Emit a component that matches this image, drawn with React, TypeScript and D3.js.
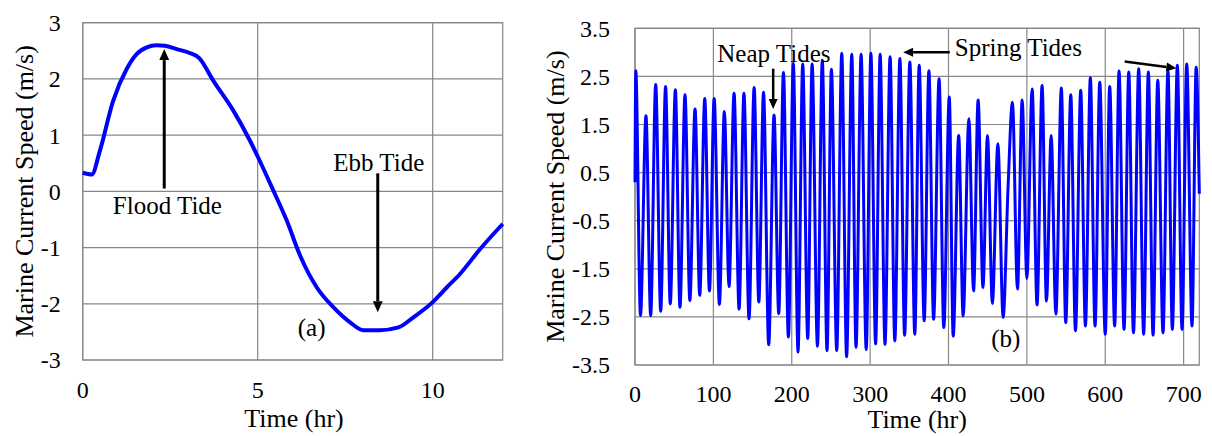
import React from 'react';
import * as d3 from 'd3';

// (a) one tidal cycle
const cycleHours = [0, 0.26, 0.49, 0.87, 1.26, 1.54, 1.83, 2.11, 2.35, 2.69, 3.02, 3.33, 3.73, 4.3, 4.78, 5.0, 5.45, 5.83, 6.21, 6.69, 7.16, 7.64, 8.02, 8.49, 9.02, 9.45, 10.0, 10.4, 10.78, 11.35, 12.0];
const cycleSpeed = [0.33, 0.3, 0.72, 1.61, 2.18, 2.44, 2.56, 2.6, 2.59, 2.53, 2.47, 2.37, 1.97, 1.44, 0.9, 0.62, 0.01, -0.52, -1.14, -1.71, -2.06, -2.33, -2.47, -2.47, -2.42, -2.24, -1.97, -1.71, -1.47, -1.03, -0.58];
const cycleXTicks = [0, 5, 10];
const cycleYTicks = [3, 2, 1, 0, -1, -2, -3];

// (b) one month, peaks and troughs
const monthHours = [
  0, 1, 7, 14, 20, 26.4, 32.8, 39, 45, 51.5,
  57.4, 63.8, 70, 76.6, 82.6, 89, 95, 101, 107.7, 114,
  120, 126.4, 132.8, 139, 145.5, 152, 158, 164, 170.6, 177.4,
  183.4, 189.4, 195.7, 202, 208, 214, 220.4, 226, 232.8, 239,
  245, 250.6, 257.4, 263.8, 270, 276.6, 282, 288.5, 295, 301,
  307, 312.8, 319, 325.5, 331.5, 338, 344, 350.7, 357, 362.6,
  369, 375, 381, 388, 394, 401, 406, 413, 418.7, 426,
  432, 437.8, 444, 449.7, 456, 463, 469.7, 476, 481.6, 488,
  494, 500, 506.7, 513, 519.4, 525, 531, 537, 544, 549.6,
  556, 562, 568.7, 574.7, 581, 587, 593, 600, 605.7, 612,
  617.6, 624, 630, 636, 642.7, 649, 655, 661, 667, 673.7,
  680, 685.6, 692, 698, 704, 710.7, 716, 720,
];
const monthSpeed = [
  0.3, 2.62, -2.47, 1.68, -2.47, 2.33, -2.38, 2.29, -2.23, 2.22,
  -2.3, 2.12, -2.16, 1.82, -2.05, 2.04, -1.96, 2.04, -2.24, 1.77,
  -1.87, 2.15, -2.34, 2.15, -2.54, 2.27, -2.19, 2.17, -3.08, 1.7,
  -2.43, 2.58, -2.92, 2.77, -3.23, 2.76, -2.95, 2.76, -3.11, 2.83,
  -3.2, 2.65, -3.2, 2.98, -3.33, 2.96, -3.13, 2.96, -3.18, 2.98,
  -3.06, 2.96, -3.07, 2.91, -3.0, 2.87, -2.88, 2.8, -2.86, 2.73,
  -2.58, 2.62, -2.55, 2.45, -2.72, 2.07, -2.9, 1.27, -2.48, 1.62,
  -1.96, 2.01, -1.89, 1.27, -2.22, 1.1, -2.51, 0.2, 1.96, -1.92,
  2.01, -1.7, 2.24, -2.25, 2.31, -2.17, 1.27, -2.44, 2.26, -2.62,
  2.12, -2.79, 2.21, -2.69, 2.47, -2.69, 2.38, -2.86, 2.29, -2.69,
  2.61, -2.76, 2.59, -2.83, 2.66, -2.86, 2.59, -2.88, 2.42, -2.83,
  2.62, -2.76, 2.73, -2.76, 2.76, -2.69, 2.69, 0.06,
];
const monthXTicks = [0, 100, 200, 300, 400, 500, 600, 700];
const monthYTicks = [3.5, 2.5, 1.5, 0.5, -0.5, -1.5, -2.5, -3.5];

const FONT = '"Liberation Serif", "Times New Roman", serif';
const GRID = '#878787';

const Arrow = ({ x1, y1, x2, y2, w = 3, head = 11 }: { x1: number; y1: number; x2: number; y2: number; w?: number; head?: number }) => {
  const a = Math.atan2(y2 - y1, x2 - x1);
  const bx = x2 - head * Math.cos(a);
  const by = y2 - head * Math.sin(a);
  const hw = head * 0.45;
  const pts = [
    [x2, y2],
    [bx + hw * Math.sin(a), by - hw * Math.cos(a)],
    [bx - hw * Math.sin(a), by + hw * Math.cos(a)],
  ];
  return (
    <g>
      <line x1={x1} y1={y1} x2={bx} y2={by} stroke="#000" strokeWidth={w} />
      <polygon points={pts.map(p => p.join(',')).join(' ')} fill="#000" />
    </g>
  );
};

export default function App() {
  // left panel
  const xa = d3.scaleLinear().domain([0, 12]).range([82.7, 502.7]);
  const ya = d3.scaleLinear().domain([-3, 3]).range([360, 22.7]);
  const lineA = d3.line<number>()
    .x((_, i) => xa(cycleHours[i]))
    .y(d => ya(d))
    .curve(d3.curveMonotoneX);

  // right panel
  const xb = d3.scaleLinear().domain([0, 720]).range([635, 1199.3]);
  const yb = d3.scaleLinear().domain([-3.5, 3.5]).range([365, 28.3]);
  const lineB = d3.line<number>()
    .x((_, i) => xb(monthHours[i]))
    .y(d => yb(d))
    .curve(d3.curveMonotoneX);

  return (
    <svg width={1212} height={436} style={{ position: 'absolute', left: 0, top: 0, background: '#fff' }} fontFamily={FONT}>
      {/* ---- (a) ---- */}
      <g>
        {cycleYTicks.map(t => (
          <g key={t}>
            <line x1={xa(0)} x2={xa(12)} y1={ya(t)} y2={ya(t)} stroke={GRID} strokeWidth={1.2} />
            <text x={xa(0) - 22} y={ya(t)} dy="0.35em" textAnchor="end" fontSize={24}>{t}</text>
          </g>
        ))}
        {cycleXTicks.map(t => (
          <g key={t}>
            <line x1={xa(t)} x2={xa(t)} y1={ya(3)} y2={ya(-3)} stroke={GRID} strokeWidth={1.2} />
            <text x={xa(t)} y={398} textAnchor="middle" fontSize={24}>{t}</text>
          </g>
        ))}
        <rect x={xa(0)} y={ya(3)} width={xa(12) - xa(0)} height={ya(-3) - ya(3)} fill="none" stroke={GRID} strokeWidth={1.2} />
        <path d={lineA(cycleSpeed) || ''} fill="none" stroke="#0000ff" strokeWidth={4} strokeLinejoin="round" />
        <Arrow x1={xa(2.33)} y1={ya(0.05)} x2={xa(2.33)} y2={ya(2.53)} />
        <text x={xa(2.42)} y={ya(-0.4)} textAnchor="middle" fontSize={25}>Flood Tide</text>
        <Arrow x1={xa(8.43)} y1={ya(0.32)} x2={xa(8.43)} y2={ya(-2.15)} />
        <text x={xa(8.46)} y={ya(0.37)} textAnchor="middle" fontSize={25}>Ebb Tide</text>
        <text x={xa(6.54)} y={ya(-2.57)} textAnchor="middle" fontSize={25}>(a)</text>
        <text transform={`translate(23.5,${(ya(3) + ya(-3)) / 2}) rotate(-90)`} textAnchor="middle" dy="0.35em" fontSize={26}>Marine Current Speed (m/s)</text>
        <text x={294} y={427} textAnchor="middle" fontSize={26}>Time (hr)</text>
      </g>

      {/* ---- (b) ---- */}
      <g>
        {monthYTicks.map(t => (
          <g key={t}>
            <line x1={xb(0)} x2={xb(720)} y1={yb(t)} y2={yb(t)} stroke={GRID} strokeWidth={1.2} />
            <text x={xb(0) - 25} y={yb(t)} dy="0.35em" textAnchor="end" fontSize={24}>{t.toFixed(1)}</text>
          </g>
        ))}
        {monthXTicks.map(t => (
          <g key={t}>
            <line x1={xb(t)} x2={xb(t)} y1={yb(3.5)} y2={yb(-3.5)} stroke={GRID} strokeWidth={1.2} />
            <text x={xb(t)} y={402} textAnchor="middle" fontSize={24}>{t}</text>
          </g>
        ))}
        <rect x={xb(0)} y={yb(3.5)} width={xb(720) - xb(0)} height={yb(-3.5) - yb(3.5)} fill="none" stroke={GRID} strokeWidth={1.2} />
        <path d={lineB(monthSpeed) || ''} fill="none" stroke="#0000ff" strokeWidth={3} strokeLinejoin="round" />
        <text x={xb(177.2)} y={yb(2.79)} textAnchor="middle" fontSize={25}>Neap Tides</text>
        <Arrow x1={xb(176.3)} y1={yb(2.66)} x2={xb(176.3)} y2={yb(1.82)} w={2.5} head={10} />
        <text x={xb(408)} y={yb(2.93)} fontSize={25}>Spring Tides</text>
        <Arrow x1={xb(401.6)} y1={yb(3.0)} x2={xb(342.1)} y2={yb(3.0)} w={2.5} head={10} />
        <Arrow x1={xb(624.8)} y1={yb(2.81)} x2={xb(690.7)} y2={yb(2.67)} w={2.5} head={10} />
        <text x={xb(473)} y={yb(-3.13)} textAnchor="middle" fontSize={25}>(b)</text>
        <text transform={`translate(555,${(yb(3.5) + yb(-3.5)) / 2}) rotate(-90)`} textAnchor="middle" dy="0.35em" fontSize={26}>Marine Current Speed (m/s)</text>
        <text x={xb(360)} y={428} textAnchor="middle" fontSize={26}>Time (hr)</text>
      </g>
    </svg>
  );
}
